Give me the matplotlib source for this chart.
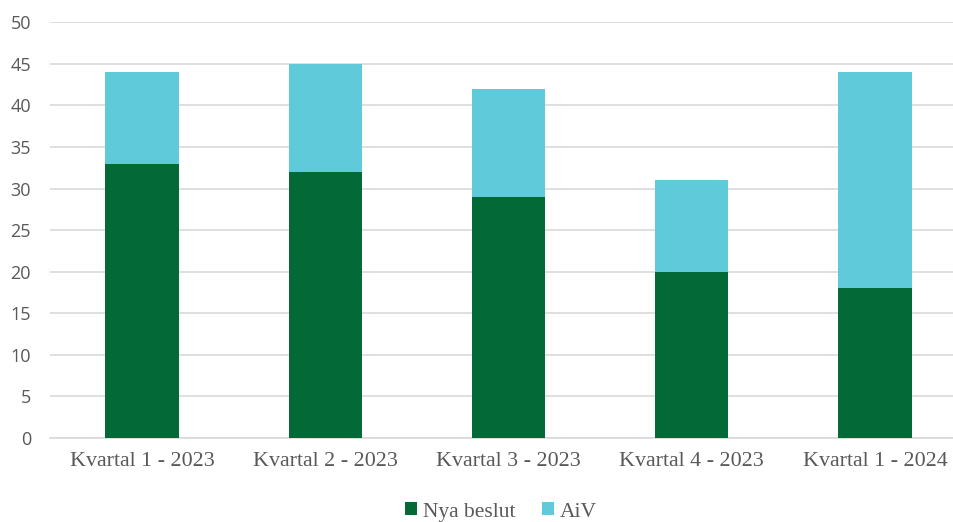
import matplotlib
matplotlib.use("Agg")
import matplotlib.pyplot as plt
import numpy as np

categories = ["Kvartal 1 - 2023", "Kvartal 2 - 2023", "Kvartal 3 - 2023", "Kvartal 4 - 2023", "Kvartal 1 - 2024"]
nya_beslut = [33, 32, 29, 20, 18]
aiv = [11, 13, 13, 11, 26]
yticks = list(range(0, 51, 5))

W, H = 954, 522
fig = plt.figure(figsize=(W/100, H/100), dpi=100)
left = 50.5 / W
bottom = (H - 438) / H
top = (H - 22.3) / H
ax = fig.add_axes([left, bottom, 1 - left, top - bottom])

x = np.arange(len(categories))
green = "#026937"
blue = "#5FCAD9"
ax.bar(x, nya_beslut, width=0.40, color=green, label="Nya beslut", zorder=3)
ax.bar(x, aiv, width=0.40, bottom=nya_beslut, color=blue, label="AiV", zorder=3)

ax.set_ylim(0, 50)
ax.set_xlim(-0.5, 4.5 - (966.6 - 954) / 183.25)
ax.set_yticks(yticks)
ax.grid(axis="y", color="#D9D9D9", linewidth=1.2, zorder=0)
for s in ["top", "right", "left"]:
    ax.spines[s].set_visible(False)
ax.spines["bottom"].set_color("#D9D9D9")
ax.spines["bottom"].set_linewidth(1.2)
ax.tick_params(axis="both", length=0, colors="#595959")
ax.tick_params(axis="y", pad=14)
ax.tick_params(axis="x", pad=10)
ax.set_xticks(x)
ax.set_xticklabels(categories, fontfamily="Liberation Serif", fontsize=15.8, color="#595959")
for lbl in ax.get_yticklabels():
    lbl.set_fontfamily("Open Sans")
    lbl.set_fontsize(13)
    lbl.set_color("#595959")

leg = fig.legend(loc="center", bbox_to_anchor=(501 / W, (H - 512) / H), ncol=2, frameon=False,
                 prop={"family": "Liberation Serif", "size": 15.5}, handlelength=0.55, handleheight=0.55,
                 handletextpad=0.3, columnspacing=1.2)
for t in leg.get_texts():
    t.set_color("#595959")

fig.savefig("out.png", dpi=100)
